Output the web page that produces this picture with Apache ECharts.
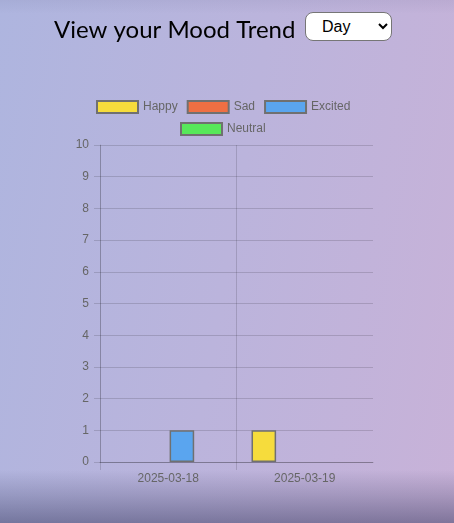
<!DOCTYPE html>
<html>
<head>
<meta charset="utf-8">
<script src="https://cdn.jsdelivr.net/npm/echarts@6/dist/echarts.min.js"></script>
<style>
html, body { margin: 0; padding: 0; width: 454px; height: 523px; overflow: hidden; }
body {
  position: relative;
  background:
    linear-gradient(to bottom, rgba(40,40,80,0.06) 0px, rgba(0,0,0,0) 14px, rgba(0,0,0,0) 470px, rgba(40,42,80,0.2) 495px, rgba(40,42,80,0.45) 523px),
    linear-gradient(100deg, #aeb5df 0%, #bbb4dc 50%, #c8b2d8 100%);
}
#chart { position: absolute; left: 0; top: 0; width: 454px; height: 523px; }
#period {
  position: absolute; left: 305px; top: 12px; width: 87px; height: 29px;
  border: 1px solid #767676; border-radius: 8px; background: #fff;
  font-family: "Liberation Sans", Arial, sans-serif; font-size: 16px; color: #000;
  padding: 0 0 0 12px; box-sizing: border-box;
}
</style>
</head>
<body>
<div id="chart"></div>
<select id="period"><option>Day</option><option>Week</option><option>Month</option></select>
<script>
const titleText = 'View your Mood Trend';
const categories = ['2025-03-18', '2025-03-19'];
const moodNames = ['Happy', 'Sad', 'Excited', 'Neutral'];
const happyValues = [0, 1];
const sadValues = [0, 0];
const excitedValues = [1, 0];
const neutralValues = [0, 0];
const yTicks = [0, 1, 2, 3, 4, 5, 6, 7, 8, 9, 10];

const moodColors = ['#f6dc3c', '#ef6f43', '#5aa5ef', '#57e85a'];
const moodValues = [happyValues, sadValues, excitedValues, neutralValues];

const font = '"Liberation Sans", Arial, sans-serif';
const gridLine = 'rgba(0,0,0,0.14)';
const axisLine = 'rgba(0,0,0,0.22)';

const chart = echarts.init(document.getElementById('chart'), null, { renderer: 'canvas' });

const series = moodNames.map((name, i) => ({
  name: name,
  type: 'bar',
  xAxisIndex: 0,
  yAxisIndex: 0,
  data: moodValues[i].map(v => (v === 0 ? null : v)),
  barCategoryGap: '22%',
  barGap: '11%',
  itemStyle: { color: moodColors[i], borderColor: '#707070', borderWidth: 1.5 },
  emphasis: { disabled: true }
}));

const legendCommon = {
  orient: 'horizontal',
  itemWidth: 41,
  itemHeight: 12,
  itemGap: 9,
  padding: 0,
  icon: 'rect',
  selectedMode: false,
  textStyle: { color: '#666', fontSize: 12, fontFamily: font }
};

chart.setOption({
  backgroundColor: 'transparent',
  animation: false,
  title: {
    text: titleText,
    left: 54,
    top: 18,
    padding: 0,
    textStyle: { fontFamily: 'Lato, sans-serif', fontSize: 24, fontWeight: 'normal', color: '#000' }
  },
  legend: [
    Object.assign({}, legendCommon, { data: moodNames.slice(0, 3), left: 96, top: 100 }),
    Object.assign({}, legendCommon, { data: moodNames.slice(3), left: 180, top: 122 })
  ],
  grid: [
    { left: 100, right: 81, top: 145, bottom: 61, containLabel: false },
    { left: 100, right: 81, top: 462, bottom: 53, containLabel: false }
  ],
  xAxis: [
    {
      type: 'category',
      gridIndex: 0,
      data: categories,
      boundaryGap: true,
      axisLine: { show: true, lineStyle: { color: axisLine, width: 1 } },
      axisTick: { show: false },
      axisLabel: { color: '#666', fontSize: 12, fontFamily: font, margin: 11 },
      splitLine: { show: true, lineStyle: { color: [gridLine, gridLine, 'rgba(0,0,0,0)'], width: 1 } }
    },
    {
      type: 'category',
      gridIndex: 1,
      data: categories,
      boundaryGap: true,
      axisLine: { show: false },
      axisTick: { show: false },
      axisLabel: { show: false },
      splitLine: { show: true, lineStyle: { color: [gridLine, gridLine, 'rgba(0,0,0,0)'], width: 1 } }
    }
  ],
  yAxis: [
    {
      type: 'value',
      gridIndex: 0,
      min: yTicks[0],
      max: yTicks[yTicks.length - 1],
      interval: 1,
      axisLine: { show: true, lineStyle: { color: gridLine, width: 1 } },
      axisTick: { show: true, length: 6, lineStyle: { color: gridLine } },
      axisLabel: { color: '#666', fontSize: 12, fontFamily: font, margin: 11 },
      splitLine: { show: true, lineStyle: { color: gridLine, width: 1 } }
    },
    {
      type: 'value',
      gridIndex: 1,
      show: false,
      min: 0,
      max: 1
    }
  ],
  series: series
});
</script>
</body>
</html>
